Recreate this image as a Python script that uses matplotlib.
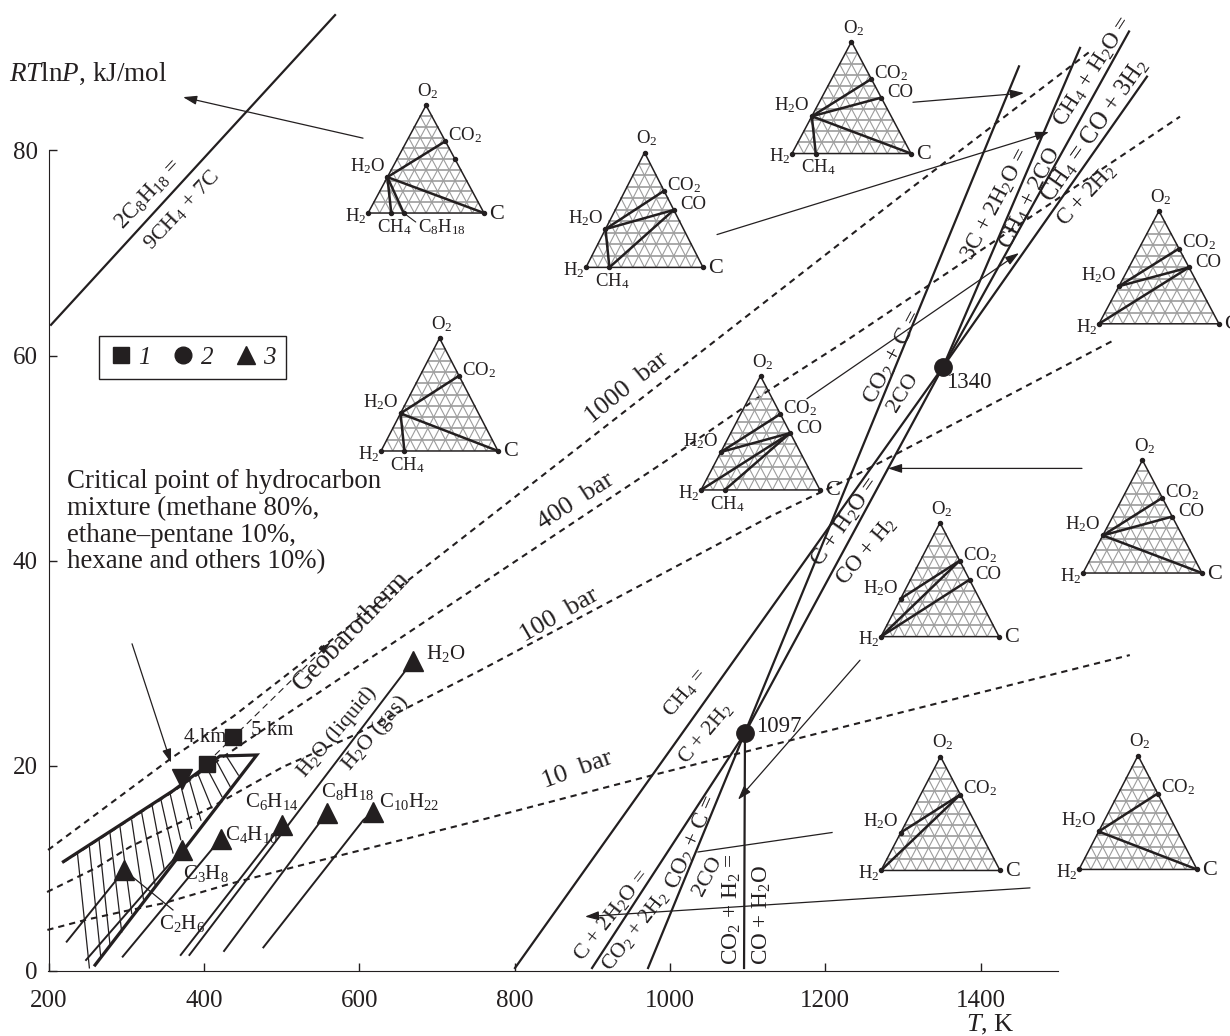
import numpy as np
import matplotlib
matplotlib.use("Agg")
import matplotlib.pyplot as plt
from matplotlib.lines import Line2D

plt.rcParams['font.family'] = ['Liberation Serif', 'DejaVu Sans']
plt.rcParams['mathtext.fontset'] = 'custom'
plt.rcParams['mathtext.rm'] = 'Liberation Serif'
plt.rcParams['mathtext.it'] = 'Liberation Serif:italic'
plt.rcParams['mathtext.bf'] = 'Liberation Serif:bold'
plt.rcParams['mathtext.default'] = 'regular'

INK = '#231f20'
GRID = '#9c9c9c'

# isobars, (T, RTlnP)
bar_1000_t = [199.2, 358.8, 437.3, 597, 935.6, 1296.1, 1543.3]
bar_1000_e = [11.8, 20.8, 24.8, 34.2, 54.2, 75.5, 89.8]
bar_400_t = [218.5, 360.1, 450.2, 687.1, 1000, 1124.9, 1227.9, 1656.6]
bar_400_e = [10.6, 17.5, 22.2, 34.2, 50, 56.5, 61.5, 83.3]
bar_100_t = [197.9, 262.2, 304.7, 407.7, 501.7, 588, 755.4, 1128.7, 1227.9, 1569]
bar_100_e = [7.7, 10.1, 12.1, 15.9, 19.9, 22.8, 29.3, 44.3, 47.9, 61.4]
bar_10_t = [198.3, 246.8, 296.2, 347.7, 433.5, 519.4, 755.4, 978, 1244.6, 1592]
bar_10_e = [4, 4.97, 5.8, 6.6, 8.5, 10.2, 14.7, 19.1, 24.2, 30.8]

# reaction lines
c8h18_t = [203, 568.7]
c8h18_e = [63.0, 93.2]
ch4_t = [800.4, 1351.5, 1614.1]
ch4_e = [0.29, 58.9, 87.2]
boudouard_t = [971.7, 1449.3]
boudouard_e = [0.29, 88.2]
water_t = [1096.5, 1351.5, 1591]
water_e = [23.2, 58.9, 91.6]
three_c_t = [1351.5, 1527.9]
three_c_e = [58.9, 90]
two_water_t = [899.6, 1096.5]
two_water_e = [0.29, 23.2]
shift_t = [1096.5, 1095.3]
shift_e = [23.2, 0.29]

# vapour pressure curves
vapour_curves = {
    'C2H6': ([223.2, 297.5], [2.86, 9.85]),
    'C3H8': ([248.1, 371.3], [1.07, 11.8]),
    'C4H10': ([295.3, 421.5], [1.4, 12.9]),
    'C6H14': ([370, 500], [1.56, 14.2]),
    'H2O': ([381.2, 669.6], [1.56, 30.3]),
    'C8H18': ([425.8, 558], [1.95, 15.4]),
    'C10H22': ([476.4, 605, 617.2], [2.3, 14.7, 15.5]),
}

# critical region of the hydrocarbon mixture
crit_t = [219, 360.6, 420.6, 467.9, 259.7]
crit_e = [10.66, 17.6, 20.96, 21.06, 0.58]
hatch_t0 = [237, 252.4, 264.8, 279, 291.9, 306.9, 319.8, 332.7, 344.2, 356.3, 370, 381.2, 392.7, 403.5, 416.4, 429.2]
hatch_e0 = [11.5, 12.1, 12.8, 13.4, 14, 14.7, 15.4, 16.3, 16.8, 17.3, 18.1, 18.6, 19.1, 19.8, 20.4, 20.9]
hatch_t1 = [252.4, 267, 279, 294, 306.9, 322, 337, 349, 360, 370, 384, 396, 410, 423, 433.5, 444.2]
hatch_e1 = [0.3, 1.4, 2.5, 3.8, 5.6, 7, 8.4, 9.8, 11.5, 12.8, 13.9, 14.7, 15.9, 17, 18, 19.1]

# markers
square_t = [403.5, 437.8]
square_e = [20.2, 22.8]
circle_t = [1096.5, 1351.5]
circle_e = [23.2, 58.9]
triangle_t = [297.5, 371.3, 421.5, 500, 558, 617.2, 668.7]
triangle_e = [9.85, 11.8, 12.9, 14.2, 15.4, 15.5, 30.25]
inverted_t = [371.3]
inverted_e = [18.7]

# leader lines: tail T, tail E, head T, head E
arrows = [
    (604.7, 81.2, 373, 85.2),
    (1312.8, 84.7, 1455.8, 85.6),
    (1060.5, 71.8, 1488, 81.8),
    (1176.4, 55.8, 1449.3, 70),
    (1530.4, 49, 1280.7, 49),
    (1244.6, 30.3, 1087.5, 16.7),
    (1463.5, 8.1, 890.5, 5.3),
    (307.3, 31.9, 357.5, 20.3),
]
plain_leaders = [
    (1208.6, 13.5, 1036, 11.6),
    (297, 9.85, 360, 5.95),
]
geotherm = (403.9, 20.3, 562, 32)

# labels: T, E, text, rotation, size
labels = [
    (329.2, 75.7, '2C$_8$H$_{18}$ =', 47, 16.3),
    (371.7, 74.2, '9CH$_4$ + 7C', 47, 16),
    (944.6, 56.8, '1000  bar', 39, 19),
    (879, 45.8, '400  bar', 33, 19),
    (857.1, 34.7, '100  bar', 30, 19),
    (880.2, 19.6, '10  bar', 20, 19),
    (590.6, 33.1, 'Geobarotherm', 46, 19.5),
    (571.2, 23.3, 'H$_2$O (liquid)', 50, 15.8),
    (620.2, 23.2, 'H$_2$O (gas)', 50, 16),
    (401.3, 22.8, '4 km', 0, 15),
    (487.6, 23.4, '5 km', 0, 15),
    (487.6, 16.5, 'C$_6$H$_{14}$', 0, 15),
    (461.8, 13.3, 'C$_4$H$_{10}$', 0, 15),
    (402.6, 9.5, 'C$_3$H$_8$', 0, 15),
    (371.7, 4.6, 'C$_2$H$_6$', 0, 15),
    (585.4, 17.5, 'C$_8$H$_{18}$', 0, 15),
    (663.9, 16.5, 'C$_{10}$H$_{22}$', 0, 15),
    (711.6, 31, 'H$_2$O', 0, 15),
    (1140.3, 23.8, '1097', 0, 16.5),
    (1384.9, 57.4, '1340', 0, 16.5),
    (1019.3, 27.1, 'CH$_4$ =', 50, 15.5),
    (1045, 23.2, 'C + 2H$_2$', 50, 15.7),
    (925.3, 5.5, 'C + 2H$_2$O =', 52, 16.2),
    (954.9, 3.9, 'CO$_2$ + 2H$_2$', 52, 15.5),
    (1028.3, 12.5, 'CO$_2$ + C =', 66, 16.6),
    (1048.9, 9.2, '2CO', 62, 16),
    (1079.8, 6.0, 'CO$_2$ + H$_2$ =', 90, 16.8),
    (1118.4, 5.5, 'CO + H$_2$O', 90, 16.7),
    (1226.6, 43.8, 'C + H$_2$O =', 55, 17),
    (1253.6, 40.9, 'CO + H$_2$', 50, 16.5),
    (1287.1, 59.8, 'CO$_2$ + C =', 62, 17),
    (1300, 56.4, '2CO', 58, 16),
    (1419.7, 74.7, '3C + 2H$_2$O =', 62, 16.4),
    (1463.5, 75.3, 'CH$_4$ + 2CO', 63, 16.8),
    (1544.6, 87.7, 'CH$_4$ + H$_2$O =', 57, 16.6),
    (1547.2, 82, 'CH$_4$ = CO + 3H$_2$', 55, 17.7),
    (1536.9, 75.6, 'C + 2H$_2$', 47, 16.3),
]

# ternary diagrams: position on the main axes and the tie lines shown
diagrams = [
    {'t0': 611.2, 't1': 760.5, 'e0': 73.9, 'e1': 84.4,
     'nodes': ['H2', 'C', 'O2', 'H2O', 'CO2', 'CH4', 'C8H18'],
     'ties': [('H2O', 'CO2'), ('H2O', 'C'), ('H2O', 'CH4'), ('H2O', 'C8H18')], 'dots': ['CO']},
    {'t0': 891.8, 't1': 1042.5, 'e0': 68.6, 'e1': 79.8,
     'nodes': ['H2', 'C', 'O2', 'H2O', 'CO2', 'CO', 'CH4'],
     'ties': [('H2O', 'CO2'), ('H2O', 'CO'), ('H2O', 'CH4'), ('CH4', 'CO')], 'dots': []},
    {'t0': 1157, 't1': 1310.3, 'e0': 79.7, 'e1': 90.6,
     'nodes': ['H2', 'C', 'O2', 'H2O', 'CO2', 'CO', 'CH4'],
     'ties': [('H2O', 'CO2'), ('H2O', 'CO'), ('H2O', 'C'), ('H2O', 'CH4')], 'dots': []},
    {'t0': 627.9, 't1': 778.5, 'e0': 50.7, 'e1': 61.7,
     'nodes': ['H2', 'C', 'O2', 'H2O', 'CO2', 'CH4'],
     'ties': [('H2O', 'CO2'), ('H2O', 'C'), ('H2O', 'CH4')], 'dots': []},
    {'t0': 1039.9, 't1': 1193.1, 'e0': 46.9, 'e1': 58,
     'nodes': ['H2', 'C', 'O2', 'H2O', 'CO2', 'CO', 'CH4'],
     'ties': [('H2O', 'CO2'), ('H2O', 'CO'), ('H2', 'CO'), ('CH4', 'CO')], 'dots': []},
    {'t0': 1552.3, 't1': 1706.8, 'e0': 63.1, 'e1': 74.1,
     'nodes': ['H2', 'C', 'O2', 'H2O', 'CO2', 'CO'],
     'ties': [('H2O', 'CO2'), ('H2O', 'CO'), ('H2', 'CO')], 'dots': []},
    {'t0': 1531.7, 't1': 1684.9, 'e0': 38.8, 'e1': 49.8,
     'nodes': ['H2', 'C', 'O2', 'H2O', 'CO2', 'CO'],
     'ties': [('H2O', 'CO2'), ('H2O', 'CO'), ('H2O', 'C')], 'dots': []},
    {'t0': 1271.6, 't1': 1423.6, 'e0': 32.6, 'e1': 43.7,
     'nodes': ['H2', 'C', 'O2', 'H2O', 'CO2', 'CO'],
     'ties': [('H2O', 'CO2'), ('H2', 'CO2'), ('H2', 'CO')], 'dots': []},
    {'t0': 1271.6, 't1': 1424.9, 'e0': 9.8, 'e1': 20.9,
     'nodes': ['H2', 'C', 'O2', 'H2O', 'CO2'],
     'ties': [('H2O', 'CO2'), ('H2', 'CO2')], 'dots': []},
    {'t0': 1526.6, 't1': 1678.5, 'e0': 9.9, 'e1': 21,
     'nodes': ['H2', 'C', 'O2', 'H2O', 'CO2'],
     'ties': [('H2O', 'CO2'), ('H2O', 'C')], 'dots': []},
]

# species on the triangle: carbon share along the base, oxygen share upward
species_xy = {
    'H2': (0, 0), 'C': (1, 0), 'O2': (0.5, 1),
    'H2O': (1 / 6, 1 / 3), 'CO2': (2 / 3, 2 / 3), 'CO': (0.75, 0.5),
    'CH4': (0.2, 0), 'C8H18': (8 / 26, 0),
}
species_text = {
    'H2': 'H$_2$', 'C': 'C', 'O2': 'O$_2$', 'H2O': 'H$_2$O', 'CO2': 'CO$_2$',
    'CO': 'CO', 'CH4': 'CH$_4$', 'C8H18': 'C$_8$H$_{18}$',
}
species_offset = {
    'H2': (-12, -3), 'C': (13, -1), 'O2': (2, 14), 'H2O': (-20, 11),
    'CO2': (20, 6), 'CO': (19, 5), 'CH4': (3, -14), 'C8H18': (38, -14),
}


def draw_ternary(ax, d):
    box = [d['t0'], d['e0'], d['t1'] - d['t0'], d['e1'] - d['e0']]
    tax = ax.inset_axes(box, transform=ax.transData)
    tax.set_xlim(0, 1)
    tax.set_ylim(0, 1)
    tax.axis('off')

    for f in np.arange(1, 10) / 10:
        tax.plot([f / 2, 1 - f / 2], [f, f], color=GRID, lw=1.2, zorder=1)
        tax.plot([f, f + (1 - f) / 2], [0, 1 - f], color=GRID, lw=0.8, zorder=1)
        tax.plot([f, f / 2], [0, f], color=GRID, lw=0.8, zorder=1)
    tax.plot([0, 1, 0.5, 0], [0, 0, 1, 0], color=INK, lw=1.1, zorder=2, clip_on=False)

    for a, b in d['ties']:
        xa, ya = species_xy[a]
        xb, yb = species_xy[b]
        tax.plot([xa, xb], [ya, yb], color=INK, lw=1.8, zorder=3, clip_on=False)

    for name in d['nodes'] + d['dots']:
        x, y = species_xy[name]
        tax.plot([x], [y], 'o', color=INK, ms=2.9, zorder=4, clip_on=False)
    for name in d['nodes']:
        x, y = species_xy[name]
        size = 16 if name == 'C' else 13.5
        tax.annotate(species_text[name], (x, y), xytext=species_offset[name],
                     textcoords='offset pixels', ha='center', va='center',
                     fontsize=size, color=INK)
    if 'C8H18' in d['nodes']:
        tax.annotate('', (species_xy['C8H18'][0], 0), xytext=(12, -9), textcoords='offset pixels',
                     arrowprops=dict(arrowstyle='-', color=INK, lw=0.8, shrinkA=0, shrinkB=0))


fig = plt.figure(figsize=(12.3, 10.36), dpi=100)
ax = fig.add_axes([0, 0, 1, 1])
ax.set_xlim(137.3, 1721)
ax.set_ylim(-6.34, 94.67)
ax.patch.set_visible(False)

ax.spines['top'].set_visible(False)
ax.spines['right'].set_visible(False)
ax.spines['left'].set_position(('data', 200))
ax.spines['bottom'].set_position(('data', 0))
ax.spines['left'].set_bounds(0, 80)
ax.spines['bottom'].set_bounds(199, 1500)
ax.spines['left'].set_color(INK)
ax.spines['bottom'].set_color(INK)
ax.set_xticks(np.arange(200, 1401, 200))
ax.set_yticks(np.arange(0, 81, 20))
ax.tick_params(axis='x', direction='in', length=6, width=1, pad=14, labelsize=18, color=INK, labelcolor=INK)
ax.tick_params(axis='y', direction='in', length=6, width=1, pad=8, labelsize=18, color=INK, labelcolor=INK)

dash = (0, (3, 2.4))
for t, e in [(bar_1000_t, bar_1000_e), (bar_400_t, bar_400_e), (bar_100_t, bar_100_e), (bar_10_t, bar_10_e)]:
    ax.plot(t, e, color=INK, lw=1.5, ls=dash)

for t, e in [(c8h18_t, c8h18_e), (ch4_t, ch4_e), (boudouard_t, boudouard_e), (water_t, water_e),
             (three_c_t, three_c_e), (two_water_t, two_water_e), (shift_t, shift_e)]:
    ax.plot(t, e, color=INK, lw=1.6)

for t, e in vapour_curves.values():
    ax.plot(t, e, color=INK, lw=1.4)

ax.plot(crit_t, crit_e, color=INK, lw=2.3, solid_joinstyle='miter')
for i in range(len(hatch_t0)):
    ax.plot([hatch_t0[i], hatch_t1[i]], [hatch_e0[i], hatch_e1[i]], color=INK, lw=0.9)

ax.plot(square_t, square_e, 's', color=INK, ms=11, zorder=5)
ax.plot(circle_t, circle_e, 'o', color=INK, ms=12.5, zorder=5)
ax.plot(triangle_t, triangle_e, '^', color=INK, ms=14, zorder=5)
ax.plot(inverted_t, inverted_e, 'v', color=INK, ms=14, zorder=5)

for t0, e0, t1, e1 in arrows:
    ax.annotate('', (t1, e1), xytext=(t0, e0),
                arrowprops=dict(arrowstyle='-|>,head_length=0.55,head_width=0.18', color=INK, lw=0.9,
                                shrinkA=0, shrinkB=0, mutation_scale=15))
for t0, e0, t1, e1 in plain_leaders:
    ax.plot([t0, t1], [e0, e1], color=INK, lw=0.9)
ax.plot(geotherm[::2], geotherm[1::2], color=INK, lw=0.8, ls=(0, (6, 4)))
ax.annotate('', (geotherm[2], geotherm[3]), xytext=(geotherm[2] - 8, geotherm[3] - 0.6),
            arrowprops=dict(arrowstyle='-|>,head_length=0.5,head_width=0.16', color=INK, lw=0.8,
                            shrinkA=0, shrinkB=0, mutation_scale=14))

for d in diagrams:
    draw_ternary(ax, d)

for t, e, s, rot, size in labels:
    ax.text(t, e, s, rotation=rot, rotation_mode='anchor', ha='center', va='center',
            fontsize=size, color=INK, zorder=6)

ax.text(149, 87.5, '$\\mathit{RT}$ln$\\mathit{P}$, kJ/mol', fontsize=19.5, color=INK, ha='left', va='center')
ax.text(1412, -5.25, '$\\mathit{T}$, K', fontsize=19, color=INK, ha='center', va='center')
ax.text(224, 43.8, 'Critical point of hydrocarbon\nmixture (methane 80%,\nethane\u2013pentane 10%,\nhexane and others 10%)',
        fontsize=19.4, color=INK, ha='left', va='center', linespacing=1.1)

handles = [Line2D([], [], marker='s', color=INK, ls='none', ms=11),
           Line2D([], [], marker='o', color=INK, ls='none', ms=12),
           Line2D([], [], marker='^', color=INK, ls='none', ms=13)]
ax.legend(handles, ['1', '2', '3'], loc='center', bbox_to_anchor=(385.2, 59.8),
          bbox_transform=ax.transData, ncol=3, frameon=True, fancybox=False, framealpha=1,
          edgecolor=INK, prop={'family': 'Liberation Serif', 'style': 'italic', 'size': 18},
          labelcolor=INK, handlelength=0.9, handletextpad=0.25, columnspacing=0.85,
          borderpad=0.42, borderaxespad=0)

fig.savefig('out.png', dpi=100)
